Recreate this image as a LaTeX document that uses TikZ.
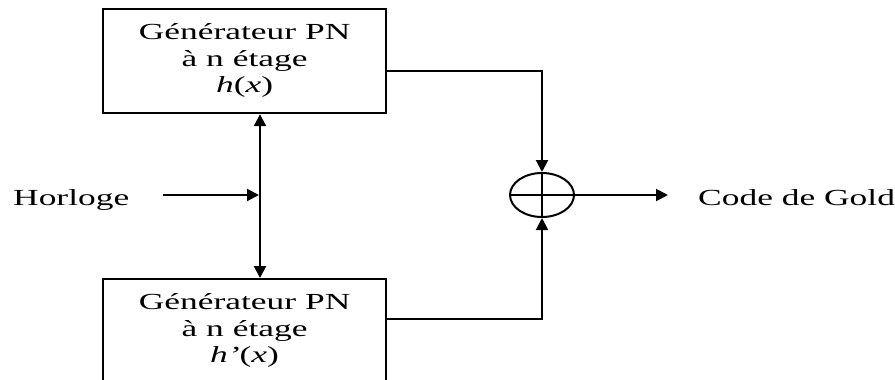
\documentclass[tikz,border=0pt]{standalone}
\usepackage{fontspec}
\setmainfont{Liberation Serif}
\usetikzlibrary{arrows.meta,shapes.geometric,calc}
\newcommand{\wtext}[1]{\scalebox{1.54}[1]{#1}}
\begin{document}
\begin{tikzpicture}[x=1pt,y=-1pt,
  genbox/.style={draw,line width=2.2pt,minimum width=283pt,minimum height=104pt,anchor=north west,inner sep=0pt,
    font=\fontsize{23}{26.5}\selectfont},
  lbl/.style={inner sep=0pt,font=\fontsize{23}{26.5}\selectfont},
  conn/.style={line width=2pt},
  tip/.style={-{Triangle[length=12pt,width=12pt]}},
]
\useasboundingbox (0,0) rectangle (895,380);
\node[genbox] (g1) at (102,8) {\wtext{\begin{tabular}{@{}c@{}}Générateur PN\\ à n étage\\ \textit{h}(\textit{x})\end{tabular}}};
\node[genbox] (g2) at (102,278) {\wtext{\begin{tabular}{@{}c@{}}Générateur PN\\ à n étage\\ \textit{h’}(\textit{x})\end{tabular}}};
\node[draw,ellipse,line width=2pt,minimum width=64pt,minimum height=44pt,inner sep=0pt] (xr) at (542,195) {};
\draw[conn] (xr.north) -- (xr.south);
\draw[conn] (xr.west) -- (xr.east);
\node[lbl,anchor=base west] (hl) at (13,205) {\wtext{Horloge}};
\node[lbl,anchor=base west] (cg) at (698,205) {\wtext{Code de Gold}};
\coordinate (c1) at (385,71);
\coordinate (c2) at (385,319);
\coordinate (h1) at (163,195);
\coordinate (j) at (260,195);
\coordinate (o1) at (668,195);
\draw[conn,tip] (c1) -| (xr.north);
\draw[conn,tip] (c2) -| (xr.south);
\draw[conn,tip] (xr.east) -- (o1);
\draw[conn,tip] (h1) -- ([xshift=-1pt]j);
\draw[conn,{Triangle[length=12pt,width=12pt]}-{Triangle[length=12pt,width=12pt]}] (j |- g1.south) -- (j |- g2.north);
\end{tikzpicture}
\end{document}
